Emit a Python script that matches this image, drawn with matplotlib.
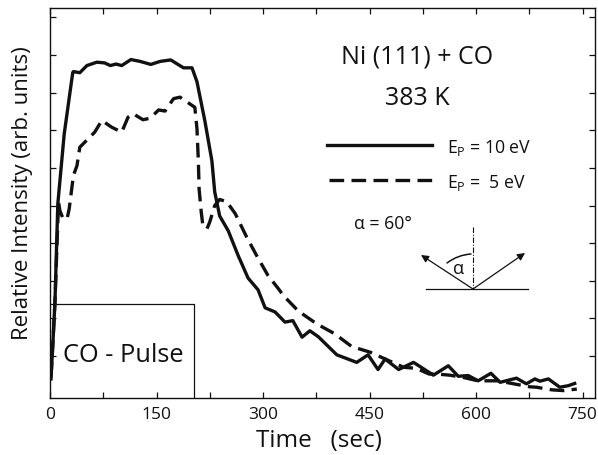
import numpy as np
import matplotlib
matplotlib.use("Agg")
import matplotlib.pyplot as plt
from matplotlib.lines import Line2D
from matplotlib.patches import FancyArrowPatch

plt.rcParams['font.family'] = ['Open Sans', 'DejaVu Sans']
plt.rcParams['mathtext.default'] = 'regular'

# Values
t_10ev = [1.4, 4, 7, 11, 20, 32, 33, 42, 52, 66, 77, 85, 93, 101, 114, 127, 142, 155, 170, 188, 200,
          207, 218, 228, 232, 239, 251, 265, 279, 293, 303, 317, 331, 342, 355, 366, 378, 404,
          432, 448, 462, 472, 491, 512, 540, 561, 575, 589, 603, 621, 634, 657, 671, 683, 690,
          702, 718, 730, 739]
i_10ev = [0.39, 1.32, 2.44, 5.04, 6.9, 8.53, 8.56, 8.53, 8.72, 8.81, 8.79, 8.72, 8.76, 8.72, 8.88,
          8.83, 8.75, 8.83, 8.87, 8.66, 8.66, 8.29, 7.26, 6.19, 5.36, 4.72, 4.33, 3.67, 3.07,
          2.76, 2.28, 2.17, 1.90, 1.94, 1.50, 1.67, 1.51, 1.03, 0.83, 1.03, 0.64, 0.92, 0.64,
          0.83, 0.49, 0.74, 0.46, 0.48, 0.34, 0.54, 0.30, 0.41, 0.26, 0.39, 0.33, 0.39, 0.17,
          0.21, 0.27]

t_5ev = [1.4, 4, 7, 12, 14, 18, 24, 27, 33, 38, 42, 63, 73, 87, 101, 110, 117, 131, 141, 153,
         162, 174, 183, 204, 207, 209, 210, 213, 215, 221, 225, 232, 239, 249, 261, 277, 291,
         307, 322, 329, 350, 376, 401, 425, 451, 472, 498, 516, 534, 545, 563, 582, 603, 615,
         631, 653, 676, 685, 707, 723, 742]
i_5ev = [0.44, 1.32, 2.44, 5.09, 4.86, 4.67, 4.64, 4.91, 5.80, 6.06, 6.55, 6.95, 7.26, 7.08,
         6.95, 7.35, 7.44, 7.28, 7.32, 7.54, 7.51, 7.84, 7.88, 7.61, 7.04, 6.16, 5.44, 4.83,
         4.51, 4.38, 4.56, 5.0, 5.16, 5.10, 4.78, 4.16, 3.67, 3.14, 2.78, 2.60, 2.19, 1.85,
         1.59, 1.25, 1.10, 0.92, 0.70, 0.67, 0.52, 0.52, 0.49, 0.43, 0.34, 0.34, 0.34, 0.26,
         0.18, 0.17, 0.10, 0.08, 0.12]

x_ticks = [0, 75, 150, 225, 300, 375, 450, 525, 600, 675, 750]
x_tick_labels = ['0', '', '150', '', '300', '', '450', '', '600', '', '750']
y_ticks = [1, 2, 3, 4, 5, 6, 7, 8, 9, 10]

pulse_t = [0, 203, 203]
pulse_i = [2.38, 2.38, -0.12]

ink = '#111111'
W, H = 598, 456


def px(x, y):
    # pixel position in the picture -> figure fraction
    return x / W, 1 - y / H


fig = plt.figure(figsize=(W / 100, H / 100), dpi=100)
ax = fig.add_axes([50 / W, (H - 399) / H, 545 / W, 390 / H])

ax.plot(t_10ev, i_10ev, color=ink, lw=2.4, solid_joinstyle='round', zorder=3)
ax.plot(t_5ev, i_5ev, color=ink, lw=2.4, dashes=(4.4, 2.2), dash_joinstyle='round', zorder=3)
ax.plot(pulse_t, pulse_i, color=ink, lw=0.9, zorder=2)

ax.set_xlim(0, 767.6)
ax.set_ylim(-0.117, 10.25)
ax.set_xticks(x_ticks)
ax.set_xticklabels(x_tick_labels)
ax.set_yticks(y_ticks)
ax.set_yticklabels([])
ax.tick_params(direction='in', length=4, width=0.9, top=True, right=True, color=ink,
               labelsize=12.5, labelcolor=ink, pad=6)
for s in ax.spines.values():
    s.set_linewidth(1.0)
    s.set_color(ink)

# axis titles
x, y = px(319, 441)
fig.text(x, y, 'Time   (sec)', fontsize=17.5, ha='center', va='center', color=ink)
x, y = px(23, 193)
fig.text(x, y, 'Relative Intensity (arb. units)', fontsize=16, rotation=90,
         ha='center', va='center', color=ink)

# annotations
x, y = px(417, 57)
fig.text(x, y, 'Ni (111) + CO', fontsize=18, ha='center', va='center', color=ink)
x, y = px(417, 99)
fig.text(x, y, '383 K', fontsize=18, ha='center', va='center', color=ink)
x, y = px(123, 355)
fig.text(x, y, 'CO - Pulse', fontsize=18.3, ha='center', va='center', color=ink)

# hand drawn legend
x0, y0 = px(327, 146)
x1, y1 = px(432, 146)
fig.add_artist(Line2D([x0, x1], [y0, y1], color=ink, lw=2.4))
x0, y0 = px(329, 181)
x1, y1 = px(433, 181)
fig.add_artist(Line2D([x0, x1], [y0, y1], color=ink, lw=2.4, dashes=(4.4, 2.2)))
x, y = px(447, 148)
fig.text(x, y, 'E$_{P}$ = 10 eV', fontsize=12.7, va='center', color=ink)
x, y = px(447, 183)
fig.text(x, y, 'E$_{P}$ =  5 eV', fontsize=12.7, va='center', color=ink)
x, y = px(354, 224)
fig.text(x, y, '\u03b1 = 60\u00b0', fontsize=12.7, va='center', color=ink)

# scattering sketch
x0, y0 = px(426, 290)
x1, y1 = px(528, 290)
fig.add_artist(Line2D([x0, x1], [y0, y1], color=ink, lw=0.9))
x0, y0 = px(473, 228)
x1, y1 = px(473, 290)
fig.add_artist(Line2D([x0, x1], [y0, y1], color=ink, lw=0.8, ls=(0, (5, 1.5, 1, 1.5))))
for tip in [(421, 256), (525, 254)]:
    fig.add_artist(FancyArrowPatch(px(473, 290), px(*tip), transform=fig.transFigure,
                                   arrowstyle='-|>', mutation_scale=11, lw=0.9,
                                   color=ink, shrinkA=0, shrinkB=0))
fig.add_artist(FancyArrowPatch(px(447, 264), px(471, 255), transform=fig.transFigure,
                               arrowstyle='-', connectionstyle='arc3,rad=-0.15',
                               lw=1.1, color=ink, shrinkA=0, shrinkB=0))
x, y = px(459, 269)
fig.text(x, y, '\u03b1', fontsize=13, ha='center', va='center', color=ink)

fig.savefig('out.png', dpi=100)
